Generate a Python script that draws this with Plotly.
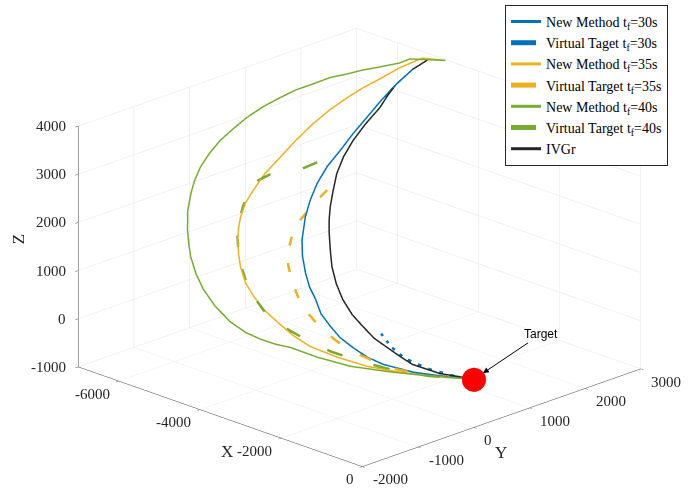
import plotly.graph_objects as go

# ---------------- data (metres) ----------------
ivgr_x = [-4800, -5150, -5210, -5200, -5140, -5060, -5010, -4920, -4810, -4650, -4450, -4250, -4070, -3890, -3630, -3370, -3070, -2760, -2430, -2130, -1820, -1530, -1240, -970, -500, -250, 0]
ivgr_y = [2990, 2950, 2700, 2400, 2200, 2000, 1710, 1420, 1170, 930, 720, 520, 370, 240, 70, -90, -230, -340, -410, -440, -460, -440, -420, -390, -240, -120, 0]
ivgr_z = [3990, 3930, 3800, 3620, 3480, 3330, 3130, 2930, 2730, 2520, 2320, 2110, 1950, 1790, 1590, 1380, 1170, 980, 790, 650, 500, 390, 280, 180, 70, 40, 0]

nm30_x = [-4800, -5150, -5210, -5190, -5150, -5080, -5020, -4940, -4870, -4750, -4590, -4410, -4120, -3890, -3610, -3360, -3100, -2830, -2530, -2250, -1950, -1630, -1340, -850, -430, 0]
nm30_y = [2990, 2950, 2700, 2360, 2080, 1780, 1490, 1200, 920, 650, 410, 190, -80, -240, -390, -500, -580, -680, -730, -760, -750, -720, -650, -470, -250, 0]
nm30_z = [3990, 3930, 3800, 3600, 3410, 3210, 3010, 2800, 2610, 2400, 2200, 1990, 1710, 1510, 1300, 1130, 980, 800, 650, 510, 390, 270, 180, 90, 40, 0]

vt30_x = [-1800, -1490, -1150, -740, -340, 0]
vt30_y = [-350, -400, -400, -300, -160, 0]
vt30_z = [560, 400, 260, 130, 50, 0]

nm35_x = [-4800, -5250, -5390, -5480, -5560, -5610, -5650, -5660, -5630, -5580, -5540, -5440, -5350, -5210, -5080, -4920, -4710, -4500, -4210, -3910, -3570, -3240, -2870, -2490, -2000, -1500, -1010, -550, 0]
nm35_y = [2990, 2900, 2590, 2300, 2060, 1810, 1530, 1240, 910, 590, 290, 10, -200, -390, -520, -650, -790, -910, -1030, -1100, -1150, -1160, -1160, -1120, -990, -820, -590, -330, 0]
nm35_z = [3990, 3940, 3820, 3680, 3570, 3450, 3300, 3130, 2930, 2720, 2520, 2320, 2160, 1990, 1850, 1710, 1540, 1380, 1180, 1010, 840, 700, 540, 400, 270, 160, 90, 40, 0]

vt35_x = [-4530, -4500, -4430, -4320, -4150, -3940, -3680, -3380, -3020, -2640, -2270, -1900, -1440, -1090, -700, 0]
vt35_y = [670, 430, 110, -110, -300, -460, -590, -700, -790, -830, -830, -800, -690, -580, -400, 0]
vt35_z = [2320, 2170, 1950, 1770, 1590, 1400, 1220, 1020, 820, 630, 480, 340, 210, 120, 60, 0]

nm40_x = [-4800, -5390, -5460, -5650, -5820, -5960, -6110, -6230, -6350, -6440, -6520, -6560, -6570, -6560, -6510, -6420, -6310, -6170, -5950, -5680, -5470, -5260, -4950, -4630, -4240, -3820, -3490, -3210, -2950, -2720, -2250, -1710, -1140, -590, 0]
nm40_y = [2990, 2780, 2650, 2430, 2240, 2060, 1870, 1650, 1440, 1210, 970, 710, 470, 230, 0, -230, -410, -580, -800, -1000, -1130, -1250, -1380, -1480, -1550, -1580, -1550, -1490, -1410, -1310, -1170, -970, -670, -360, 0]
nm40_z = [3990, 3930, 3880, 3830, 3790, 3740, 3700, 3620, 3550, 3450, 3340, 3210, 3070, 2930, 2770, 2600, 2440, 2280, 2060, 1830, 1660, 1500, 1290, 1100, 890, 700, 570, 490, 430, 390, 270, 160, 90, 40, 0]

vt40_x = [-5050, -5160, -5290, -5460, -5520, -5450, -5350, -5180, -4970, -4740, -4490, -4200, -3880, -3510, -3120, -2760, -2170, -1660, -1060, -590, 0]
vt40_y = [870, 640, 470, 320, 160, -40, -240, -430, -620, -770, -900, -1020, -1110, -1170, -1160, -1100, -990, -830, -600, -360, 0]
vt40_z = [2660, 2570, 2520, 2510, 2440, 2290, 2130, 1950, 1740, 1560, 1380, 1180, 1000, 800, 650, 520, 340, 220, 100, 40, 0]

target = [0, 0, 0]

x_range = [-7000, 0]
y_range = [-2000, 3000]
z_range = [-1000, 4000]
x_ticks = [-6000, -4000, -2000, 0]
y_ticks = [-2000, -1000, 0, 1000, 2000, 3000]
z_ticks = [-1000, 0, 1000, 2000, 3000, 4000]

BLUE, YEL, GRN, BLK = "#0072BD", "#EDB120", "#77AC30", "#262626"
SERIF = "Liberation Serif, Times New Roman, serif"
TXT = "#262626"

series = [
    ("New Method t<sub>f</sub>=30s", nm30_x, nm30_y, nm30_z, BLUE, "solid", 3),
    ("Virtual Taget t<sub>f</sub>=30s", vt30_x, vt30_y, vt30_z, BLUE, "longdash", 5),
    ("New Method t<sub>f</sub>=35s", nm35_x, nm35_y, nm35_z, YEL, "solid", 3),
    ("Virtual Target t<sub>f</sub>=35s", vt35_x, vt35_y, vt35_z, YEL, "longdash", 5),
    ("New Method t<sub>f</sub>=40s", nm40_x, nm40_y, nm40_z, GRN, "solid", 3),
    ("Virtual Target t<sub>f</sub>=40s", vt40_x, vt40_y, vt40_z, GRN, "longdash", 5),
    ("IVGr", ivgr_x, ivgr_y, ivgr_z, BLK, "solid", 3),
]

fig = go.Figure()
for name, xs, ys, zs, col, dash, w in series:
    fig.add_trace(go.Scatter3d(x=xs, y=ys, z=zs, mode="lines", name=name,
                               line=dict(color=col, width=w, dash=dash)))

fig.add_trace(go.Scatter3d(x=[target[0]], y=[target[1]], z=[target[2]], mode="markers",
                           marker=dict(color="red", size=14, line=dict(width=0)),
                           showlegend=False))

def ax(rng, vals):
    return dict(title=dict(text=""), range=rng, tickvals=vals, showticklabels=False,
                showbackground=False, gridcolor="#e3e3e3", gridwidth=1,
                showline=True, linecolor="#404040", linewidth=1,
                zeroline=False, showspikes=False, ticks="outside", ticklen=4,
                tickcolor="#404040")

# anchor points for labels sit a hair inside the box so they are never culled
eps = 1e-3
def inside(rng, end):
    return rng[end] + (eps if end == 0 else -eps) * (rng[1] - rng[0])

tickfont = dict(family=SERIF, size=15, color=TXT)
titlefont = dict(family=SERIF, size=17, color=TXT)
ann = []
# horizontal tick labels (as in the reference), anchored at the 3D tick positions
for v in x_ticks:
    ann.append(dict(x=v, y=inside(y_range, 0), z=inside(z_range, 0), text=str(v), showarrow=False,
                    xanchor="right", yanchor="middle", xshift=-7, yshift=-13, font=tickfont))
for v in y_ticks:
    ann.append(dict(x=inside(x_range, 1), y=v, z=inside(z_range, 0), text=str(v), showarrow=False,
                    xanchor="left", yanchor="middle", xshift=9, yshift=-13, font=tickfont))
for v in z_ticks:
    ann.append(dict(x=inside(x_range, 0), y=inside(y_range, 0), z=v, text=str(v), showarrow=False,
                    xanchor="right", yanchor="middle", xshift=-11, yshift=0, font=tickfont))
# axis titles
ann.append(dict(x=sum(x_range) / 2, y=inside(y_range, 0), z=inside(z_range, 0), text="X",
                showarrow=False, xshift=6, yshift=-35, font=titlefont))
ann.append(dict(x=inside(x_range, 1), y=sum(y_range) / 2, z=inside(z_range, 0), text="Y",
                showarrow=False, xshift=0, yshift=-35, font=titlefont))
ann.append(dict(x=inside(x_range, 0), y=inside(y_range, 0), z=sum(z_range) / 2, text="Z",
                showarrow=False, xshift=-60, yshift=7, textangle=-90, font=titlefont))
# target callout
ann.append(dict(x=target[0], y=target[1], z=target[2], text="Target", showarrow=True,
                ax=67, ay=-45, arrowhead=2, arrowsize=1.2, arrowwidth=1,
                arrowcolor="black", standoff=11,
                font=dict(family="Liberation Sans, Arial, sans-serif", size=12, color="black")))

r = 1.21
k = 1.65
fig.update_layout(
    width=689, height=491, margin=dict(l=0, r=0, t=0, b=0),
    paper_bgcolor="white", showlegend=True,
    scene=dict(
        domain=dict(x=[0.0436, 1.0], y=[0.0, 0.992]),
        xaxis=ax(x_range, x_ticks),
        yaxis=ax(y_range, y_ticks),
        zaxis=ax(z_range, z_ticks),
        aspectmode="manual", aspectratio=dict(x=1 * k, y=0.98 * k, z=0.64 * k),
        camera=dict(projection=dict(type="orthographic"),
                    eye=dict(x=0.662 * r, y=-0.662 * r, z=0.351 * r),
                    up=dict(x=0, y=0, z=1), center=dict(x=0, y=0, z=0)),
        annotations=ann,
    ),
    legend=dict(x=0.733, y=0.99, xanchor="left", yanchor="top",
                bgcolor="white", bordercolor="#262626", borderwidth=1,
                font=dict(family=SERIF, size=14, color="black"),
                tracegroupgap=0),
)

fig.write_html("out.html")
